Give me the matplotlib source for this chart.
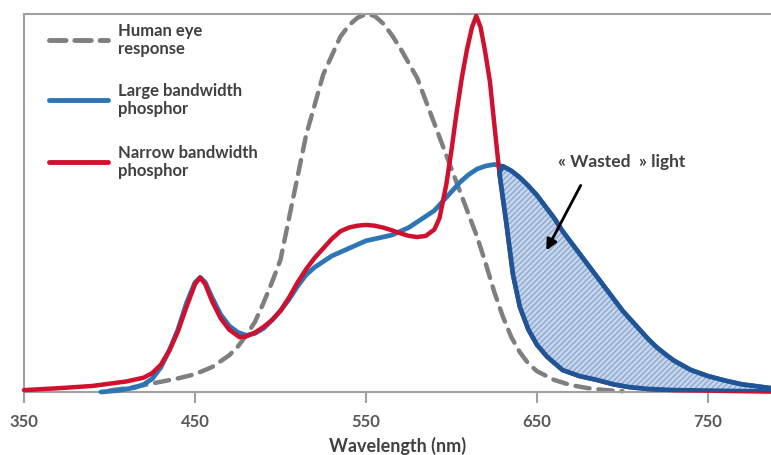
import numpy as np
import matplotlib
matplotlib.use("Agg")
import matplotlib.pyplot as plt

plt.rcParams["font.family"] = ["Lato", "DejaVu Sans"]
plt.rcParams["font.weight"] = "bold"

# human eye response (dashed grey)
eye_wl = [400, 410, 420, 430, 440, 450, 460, 470, 475, 480, 485, 490, 495,
          500, 505, 510, 515, 520, 525, 530, 535, 540, 545, 550, 555, 560,
          565, 570, 575, 580, 585, 590, 595, 600, 605, 610, 615, 620, 625,
          630, 635, 640, 645, 650, 660, 670, 680, 690, 700]
eye_val = [0.004, 0.01, 0.018, 0.027, 0.036, 0.047, 0.066, 0.097, 0.12, 0.15,
           0.185, 0.235, 0.29, 0.35, 0.46, 0.57, 0.68, 0.76, 0.84, 0.89, 0.94,
           0.97, 0.99, 1.0, 0.995, 0.975, 0.945, 0.91, 0.87, 0.83, 0.77, 0.71,
           0.65, 0.59, 0.53, 0.47, 0.41, 0.34, 0.265, 0.2, 0.145, 0.105,
           0.075, 0.055, 0.032, 0.018, 0.01, 0.005, 0.002]

# large bandwidth phosphor (blue)
large_wl = [395, 405, 415, 420, 425, 430, 435, 440, 445, 450, 453, 456, 460,
            465, 470, 475, 480, 485, 490, 495, 500, 505, 510, 515, 520, 525,
            530, 535, 540, 545, 550, 555, 560, 565, 570, 575, 580, 585, 590,
            595, 600, 605, 610, 615, 620, 625, 630, 635, 640, 645, 650, 655,
            660, 665, 670, 675, 680, 685, 690, 695, 700, 705, 710, 715, 720,
            725, 730, 740, 750, 760, 770, 787]
large_val = [0.0, 0.004, 0.012, 0.02, 0.035, 0.065, 0.11, 0.165, 0.235, 0.29,
             0.303, 0.29, 0.25, 0.205, 0.175, 0.158, 0.15, 0.155, 0.168, 0.19,
             0.215, 0.245, 0.28, 0.31, 0.33, 0.345, 0.36, 0.37, 0.38, 0.39,
             0.40, 0.405, 0.41, 0.415, 0.425, 0.435, 0.45, 0.465, 0.48, 0.505,
             0.53, 0.555, 0.575, 0.59, 0.598, 0.602, 0.597, 0.585, 0.567,
             0.545, 0.52, 0.49, 0.46, 0.425, 0.395, 0.365, 0.335, 0.305, 0.275,
             0.245, 0.215, 0.19, 0.165, 0.14, 0.118, 0.1, 0.083, 0.058, 0.042,
             0.03, 0.02, 0.01]

# narrow bandwidth phosphor (red)
narrow_wl = [350, 370, 390, 410, 420, 425, 430, 435, 440, 445, 450, 453, 456,
             460, 465, 470, 476, 480, 485, 490, 495, 500, 505, 510, 515, 520,
             525, 530, 535, 540, 545, 550, 555, 560, 565, 570, 575, 580, 585,
             590, 593, 597, 600, 603, 606, 609, 612, 614.5, 617, 619.5, 622.5,
             625, 628, 632, 636, 640, 645, 650, 656, 665, 675, 685, 695, 704,
             715, 730, 787]
narrow_val = [0.005, 0.01, 0.016, 0.028, 0.038, 0.05, 0.072, 0.11, 0.16, 0.225,
              0.285, 0.303, 0.285, 0.24, 0.195, 0.165, 0.145, 0.147, 0.157,
              0.172, 0.19, 0.215, 0.25, 0.29, 0.325, 0.355, 0.38, 0.405, 0.425,
              0.435, 0.44, 0.442, 0.44, 0.435, 0.428, 0.42, 0.413, 0.41, 0.413,
              0.43, 0.46, 0.55, 0.64, 0.74, 0.83, 0.905, 0.965, 0.995, 0.965,
              0.905, 0.82, 0.71, 0.58, 0.45, 0.31, 0.225, 0.165, 0.125, 0.093,
              0.058, 0.042, 0.032, 0.02, 0.013, 0.008, 0.005, 0.001]

labels = ["Human eye\nresponse", "Large bandwidth\nphosphor",
          "Narrow bandwidth\nphosphor"]
xticks = [350, 450, 550, 650, 750]
wasted_from = 628

grey = "#7f7f7f"
blue = "#2e75b6"
red = "#d0102f"
navy = "#1f5597"
txt = "#404040"

fig = plt.figure(figsize=(7.71, 4.55), dpi=100)
ax = fig.add_axes([24 / 771, 63 / 455, 747 / 771, 378 / 455])

eye_line, = ax.plot(eye_wl, eye_val, color=grey, lw=3.2, dashes=(3.2, 2.0),
                    dash_capstyle="round", clip_on=False, zorder=2)
large_line, = ax.plot(large_wl, large_val, color=blue, lw=3.4, clip_on=False,
                      zorder=3, solid_capstyle="round", solid_joinstyle="round")
narrow_line, = ax.plot(narrow_wl, narrow_val, color=red, lw=3.2, clip_on=False,
                       zorder=4, solid_capstyle="round", solid_joinstyle="round")

# wasted light region between the two phosphor curves
lw_arr = np.array(large_wl)
lv_arr = np.array(large_val)
nw_arr = np.array(narrow_wl)
nv_arr = np.array(narrow_val)
m1 = lw_arr >= wasted_from
m2 = nw_arr >= wasted_from
px = np.concatenate([lw_arr[m1], nw_arr[m2][::-1]])
py = np.concatenate([lv_arr[m1], nv_arr[m2][::-1]])
ax.fill(px, py, facecolor="#c6d6ec", edgecolor="#8fa9d0", hatch="//////",
        lw=0, zorder=5)
ax.fill(px, py, facecolor="none", edgecolor=navy, lw=3.4, joinstyle="round",
        zorder=6)

ax.set_xlim(350, 350 + 747 / 1.71)
ax.set_ylim(0, 1.0)
ax.set_xticks(xticks)
ax.set_xticklabels([str(t) for t in xticks], fontweight="bold")
ax.set_yticks([])
ax.tick_params(axis="x", direction="out", length=8, width=1.5, color="#a0a0a0",
               labelsize=12, labelcolor="#595959", pad=8)
for s in ["left", "top", "bottom"]:
    ax.spines[s].set_color("#a0a0a0")
    ax.spines[s].set_linewidth(1.5)
ax.spines["right"].set_visible(False)
ax.set_xlabel("Wavelength (nm)", fontsize=13, fontweight="bold", color=txt,
              labelpad=5)

# legend drawn by hand
leg_y = [0.931, 0.772, 0.608]
handles = [eye_line, large_line, narrow_line]
for h, lab, yy in zip(handles, labels, leg_y):
    kw = dict(color=h.get_color(), lw=3.5, transform=ax.transAxes,
              clip_on=False)
    if h is eye_line:
        ax.plot([0.034, 0.112], [yy, yy], dashes=(3.4, 1.8),
                dash_capstyle="round", **kw)
    else:
        ax.plot([0.034, 0.112], [yy, yy], solid_capstyle="round", **kw)
    ax.text(0.126, yy, lab, transform=ax.transAxes, fontsize=12, color=txt,
            va="center", ha="left", linespacing=1.2, fontweight="bold")

ax.annotate("", xy=(654.7, 0.368), xytext=(676.3, 0.553),
            arrowprops=dict(arrowstyle="-|>", color="black", lw=2,
                            mutation_scale=16), zorder=7)
ax.text(699.7, 0.608, "« Wasted  » light", fontsize=12.5, color=txt,
        ha="center", va="center", fontweight="bold")

fig.savefig("out.png", dpi=100)
